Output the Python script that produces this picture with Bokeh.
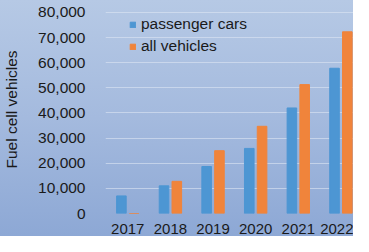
from bokeh.plotting import figure
from bokeh.models import FixedTicker, NumeralTickFormatter, Legend, LegendItem, ColumnDataSource, Range1d
from bokeh.transform import dodge
from bokeh.embed import file_html
from bokeh.resources import INLINE

years = [2017, 2018, 2019, 2020, 2021, 2022]
year_labels = ["2017", "2018", "2019", "2020", "2021", "2022"]
passenger_cars = [7000, 11000, 18700, 25900, 42000, 57800]
all_vehicles = [None, 12800, 25000, 34700, 51300, 72300]
y_ticks = [0, 10000, 20000, 30000, 40000, 50000, 60000, 70000, 80000]

src = ColumnDataSource(dict(x=years, pc=passenger_cars, av=[v if v is not None else 0 for v in all_vehicles]))

FONT = "Liberation Sans"
p = figure(width=353, height=236, output_backend="svg", toolbar_location=None,
           x_range=Range1d(2016.477, 2022.295), y_range=Range1d(0, 82770),
           min_border_top=5, min_border_right=0, min_border_bottom=22, min_border_left=97)
p.styles = {"background": "linear-gradient(180deg, #b6c9e5 0%, #a4bade 50%, #8da8d5 100%)"}
p.background_fill_alpha = 0
p.border_fill_alpha = 0
p.outline_line_color = None

r1 = p.vbar(x=dodge("x", -0.15), top="pc", width=0.225, source=src, color="#4d96d3")
r2 = p.vbar(x=dodge("x", 0.15), top="av", width=0.225, source=src, color="#f0843b")

p.xgrid.grid_line_color = None
p.ygrid.grid_line_color = "#dde6f3"
p.ygrid.grid_line_alpha = 0.6
p.ygrid.ticker = FixedTicker(ticks=y_ticks)

p.yaxis.ticker = FixedTicker(ticks=y_ticks)
p.yaxis.formatter = NumeralTickFormatter(format="0,0")
p.yaxis.axis_label = "Fuel cell vehicles"
p.yaxis.axis_label_text_font = FONT
p.yaxis.axis_label_text_font_size = "15.5px"
p.yaxis.axis_label_text_font_style = "normal"
p.yaxis.axis_label_text_color = "#1a1a1a"
p.yaxis.axis_label_standoff = 15
p.yaxis.major_label_standoff = 14

p.xaxis.ticker = FixedTicker(ticks=years)
p.xaxis.major_label_overrides = {y: l for y, l in zip(years, year_labels)}
p.xaxis.major_label_standoff = 4

for ax in (p.xaxis, p.yaxis):
    ax.axis_line_color = None
    ax.major_tick_line_color = None
    ax.minor_tick_line_color = None
    ax.major_label_text_font = FONT
    ax.major_label_text_font_size = "15.5px"
    ax.major_label_text_color = "#1a1a1a"
p.xaxis.major_label_text_font_size = "15px"

legend = Legend(items=[LegendItem(label="passenger cars", renderers=[r1]),
                       LegendItem(label="all vehicles", renderers=[r2])],
                location=(24, 156), padding=0, margin=0, spacing=0,
                glyph_width=7, glyph_height=7, label_height=22, label_standoff=5,
                label_text_font=FONT, label_text_font_size="15.5px", label_text_color="#1a1a1a",
                background_fill_alpha=0, border_line_color=None)
p.add_layout(legend, "center")

open("out.html", "w").write(file_html(p, INLINE))
